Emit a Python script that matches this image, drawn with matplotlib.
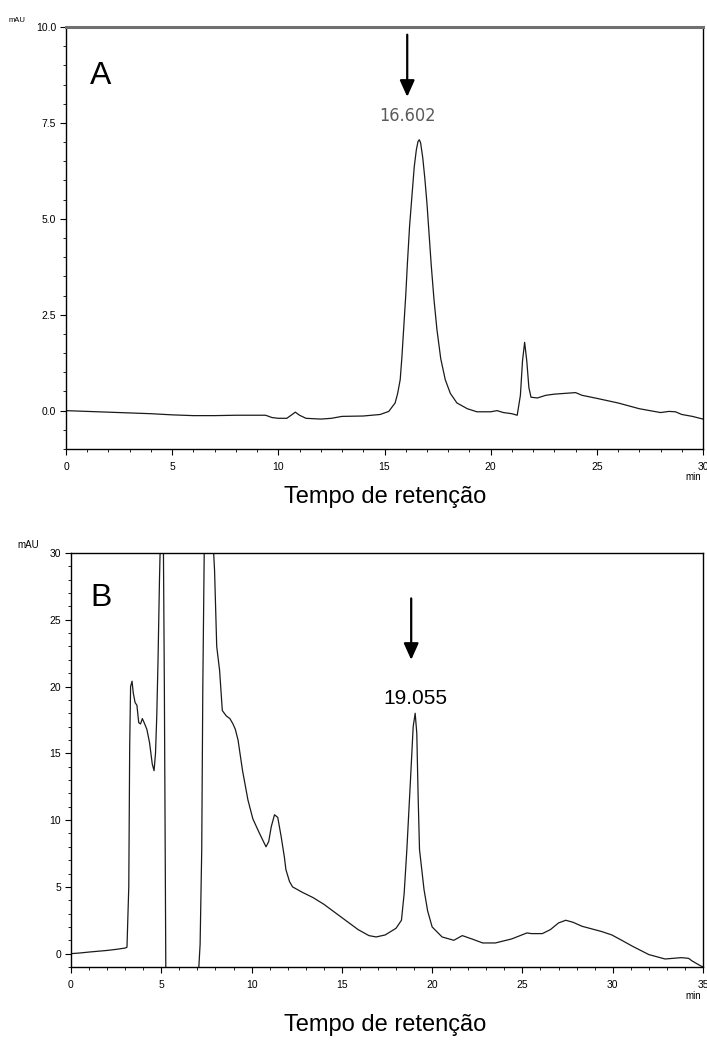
import matplotlib
matplotlib.use('Agg')
import matplotlib.pyplot as plt
from matplotlib import font_manager
from matplotlib.ticker import MultipleLocator, FormatStrFormatter

plt.rcParams['font.family'] = ['Liberation Sans', 'DejaVu Sans']

# Cromatograma A (padrão)
tempo_a = [0.0, 1.0, 2.0, 3.0, 4.0, 5.0, 6.0, 7.0, 8.0, 9.0, 9.4, 9.7, 10.0, 10.4,
           10.6, 10.8, 11.0, 11.3, 12.0, 12.5, 13.0, 14.0, 14.8, 15.2, 15.5, 15.62,
           15.74, 15.82, 15.9, 16.0, 16.08, 16.18, 16.29, 16.4, 16.5, 16.58, 16.64,
           16.7, 16.8, 16.9, 17.0, 17.1, 17.2, 17.33, 17.47, 17.65, 17.86, 18.1, 18.41,
           18.9, 19.35, 20.0, 20.3, 20.6, 21.0, 21.25, 21.4, 21.5, 21.6, 21.7, 21.8,
           21.9, 22.2, 22.6, 23.0, 23.5, 24.0, 24.3, 25.0, 26.0, 27.0, 28.0, 28.4,
           28.7, 29.0, 29.5, 30.0]
sinal_a = [0.0, -0.02, -0.04, -0.06, -0.08, -0.11, -0.13, -0.13, -0.12, -0.12, -0.12,
           -0.18, -0.2, -0.2, -0.12, -0.04, -0.12, -0.2, -0.22, -0.2, -0.15, -0.14,
           -0.1, -0.02, 0.2, 0.45, 0.81, 1.4, 2.11, 3.0, 3.85, 4.8, 5.58, 6.35, 6.8,
           7.02, 7.06, 6.98, 6.6, 6.05, 5.4, 4.6, 3.8, 2.9, 2.11, 1.35, 0.81, 0.45,
           0.2, 0.05, -0.03, -0.03, 0.0, -0.05, -0.08, -0.12, 0.4, 1.3, 1.78, 1.3, 0.6,
           0.35, 0.33, 0.4, 0.43, 0.45, 0.47, 0.4, 0.32, 0.2, 0.05, -0.05, -0.02,
           -0.03, -0.1, -0.15, -0.22]

# Cromatograma B (amostra)
tempo_b = [0.0, 0.5, 1.0, 1.5, 2.0, 2.5, 3.0, 3.1, 3.2, 3.25, 3.3, 3.38, 3.45, 3.55,
           3.65, 3.75, 3.85, 3.95, 4.05, 4.2, 4.35, 4.5, 4.6, 4.68, 4.75, 4.82, 4.9,
           5.0, 5.1, 5.17, 5.25, 5.3, 6.0, 7.0, 7.08, 7.15, 7.24, 7.3, 7.4, 7.7, 7.9,
           7.95, 8.07, 8.23, 8.38, 8.6, 8.8, 8.97, 9.1, 9.25, 9.5, 9.8, 10.07, 10.44,
           10.8, 10.95, 11.09, 11.27, 11.45, 11.64, 11.82, 11.9, 12.1, 12.27, 12.8,
           13.4, 14.0, 14.5, 15.0, 15.4, 15.9, 16.1, 16.5, 16.9, 17.4, 18.0, 18.3,
           18.45, 18.6, 18.8, 18.95, 19.06, 19.15, 19.22, 19.3, 19.55, 19.75, 20.0,
           20.55, 21.2, 21.67, 22.2, 22.8, 23.5, 24.4, 25.25, 25.5, 26.1, 26.55, 27.0,
           27.4, 27.8, 28.3, 29.4, 29.95, 30.5, 31.1, 32.0, 32.9, 33.8, 34.2, 34.4,
           34.85, 35.0]
sinal_b = [0.0, 0.05, 0.12, 0.18, 0.24, 0.32, 0.42, 0.48, 5.0, 15.5, 20.0, 20.4, 19.5,
           18.8, 18.6, 17.3, 17.2, 17.6, 17.3, 16.8, 15.8, 14.2, 13.7, 15.0, 17.8,
           22.0, 28.0, 34.0, 34.0, 20.0, -1.0, -5.0, -8.0, -5.0, -1.0, 0.7, 7.8, 20.0,
           33.0, 40.0, 30.0, 28.7, 23.0, 21.2, 18.2, 17.8, 17.6, 17.2, 16.8, 16.0, 13.7,
           11.5, 10.1, 9.0, 8.0, 8.4, 9.5, 10.4, 10.2, 8.75, 7.2, 6.3, 5.4, 5.0, 4.6,
           4.2, 3.7, 3.2, 2.7, 2.3, 1.8, 1.65, 1.35, 1.25, 1.4, 1.9, 2.5, 4.5, 7.8,
           13.0, 17.0, 18.0, 16.5, 12.0, 7.8, 4.8, 3.2, 2.0, 1.25, 1.0, 1.35, 1.1, 0.8,
           0.8, 1.1, 1.55, 1.5, 1.5, 1.8, 2.3, 2.5, 2.35, 2.05, 1.65, 1.4, 1.0, 0.55,
           -0.07, -0.4, -0.3, -0.35, -0.55, -0.9, -1.0]

W, H = 707, 1053
fig = plt.figure(figsize=(W / 100, H / 100), dpi=100)

def px(x, y):
    # pixel da imagem -> fração da figura
    return x / W, 1 - y / H

def eixo(x0, y0, x1, y1):
    return fig.add_axes([x0 / W, 1 - y1 / H, (x1 - x0) / W, (y1 - y0) / H])

# fonte estreita para o rótulo do pico em A (se existir)
nomes = {f.name for f in font_manager.fontManager.ttflist}
if 'Liberation Sans Narrow' in nomes:
    fonte_estreita = dict(family='Liberation Sans Narrow')
elif any(f.name == 'DejaVu Sans' and f.stretch == 'condensed' for f in font_manager.fontManager.ttflist):
    fonte_estreita = dict(family='DejaVu Sans', fontstretch='condensed')
else:
    fonte_estreita = dict(family='Liberation Sans')

cor_linha = '#1a1a1a'

# ---------- Painel A ----------
ax1 = eixo(66, 27, 703, 449)
ax1.plot(tempo_a, sinal_a, color=cor_linha, lw=0.9)
ax1.set_xlim(0, 30)
ax1.set_ylim(-1.0, 10.0)
ax1.xaxis.set_major_locator(MultipleLocator(5))
ax1.xaxis.set_minor_locator(MultipleLocator(1))
ax1.yaxis.set_major_locator(MultipleLocator(2.5))
ax1.yaxis.set_minor_locator(MultipleLocator(0.5))
ax1.yaxis.set_major_formatter(FormatStrFormatter('%.1f'))
ax1.spines['top'].set_color('#707070')
ax1.spines['top'].set_linewidth(2.2)

ax1.annotate('', xy=(16.07, 8.18), xytext=(16.07, 9.8),
             arrowprops=dict(arrowstyle='-|>,head_width=0.45,head_length=1.0',
                             color='black', lw=1.6, shrinkA=0, shrinkB=0))
ax1.text(16.07, 7.67, '16.602', ha='center', va='center', fontsize=13,
         color='#5a5a5a', **fonte_estreita)

# ---------- Painel B ----------
ax2 = eixo(71, 553, 703, 967)
ax2.plot(tempo_b, sinal_b, color=cor_linha, lw=0.9)
ax2.set_xlim(0, 35)
ax2.set_ylim(-1, 30)
ax2.xaxis.set_major_locator(MultipleLocator(5))
ax2.xaxis.set_minor_locator(MultipleLocator(1))
ax2.yaxis.set_major_locator(MultipleLocator(5))
ax2.yaxis.set_minor_locator(MultipleLocator(1))

ax2.annotate('', xy=(18.84, 22.0), xytext=(18.84, 26.6),
             arrowprops=dict(arrowstyle='-|>,head_width=0.45,head_length=1.0',
                             color='black', lw=1.6, shrinkA=0, shrinkB=0))
ax2.text(19.05, 19.1, '19.055', ha='center', va='center', fontsize=15)

for ax in (ax1, ax2):
    for lado in ('left', 'bottom', 'right'):
        ax.spines[lado].set_color('black')
        ax.spines[lado].set_linewidth(1.0)
    ax.tick_params(which='major', length=4, width=0.8, labelsize=7.5,
                   colors='black', pad=3)
    ax.tick_params(which='minor', length=2.5, width=0.6)
    ax.tick_params(axis='x', which='major', pad=5)
ax2.spines['top'].set_linewidth(1.0)

# textos fora dos eixos
fig.text(*px(17, 20), 'mAU', fontsize=5.5, ha='center', va='center')
fig.text(*px(28, 545), 'mAU', fontsize=7, ha='center', va='center')
fig.text(*px(693, 477), 'min', fontsize=7, ha='center', va='center')
fig.text(*px(693, 996), 'min', fontsize=7, ha='center', va='center')
fig.text(*px(101, 76), 'A', fontsize=23, ha='center', va='center')
fig.text(*px(101, 598), 'B', fontsize=23, ha='center', va='center')
fig.text(*px(385, 497), 'Tempo de retenção', fontsize=17, ha='center', va='center')
fig.text(*px(385, 1025), 'Tempo de retenção', fontsize=17, ha='center', va='center')

fig.savefig('out.png', dpi=100)
